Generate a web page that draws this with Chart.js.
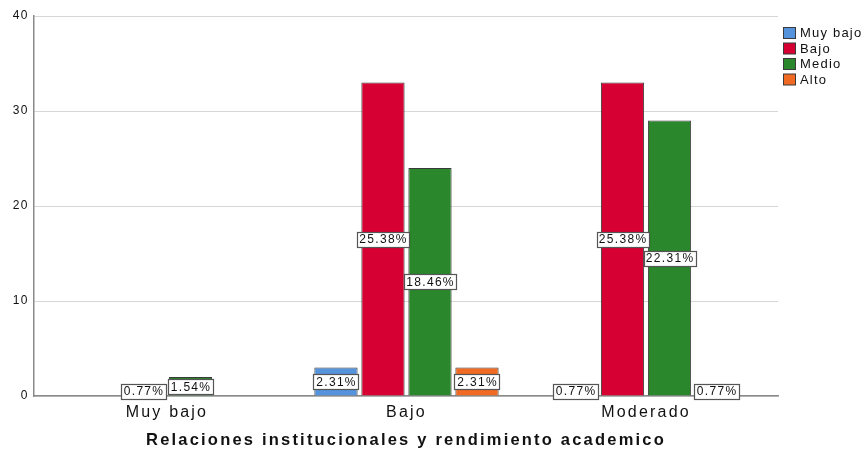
<!DOCTYPE html>
<html>
<head>
<meta charset="utf-8">
<script src="https://cdn.jsdelivr.net/npm/chart.js@4/dist/chart.umd.min.js"></script>
<style>
  html, body { margin: 0; padding: 0; background: #fff; overflow: hidden; }
  #wrap { width: 862px; height: 450px; }
</style>
</head>
<body>
<div id="wrap"><canvas id="chart" width="862" height="450"></canvas></div>
<script>
// categories on the x axis and the four clustered series (counts)
const categories = ['Muy bajo', 'Bajo', 'Moderado'];
const seriesNames = ['Muy bajo', 'Bajo', 'Medio', 'Alto'];
const muyBajoCounts = [0, 3, 1];
const bajoCounts = [1, 33, 33];
const medioCounts = [2, 24, 29];
const altoCounts = [0, 3, 1];
const yTicks = [0, 10, 20, 30, 40];

const colors = {
    blue: '#5594dd',
    red: '#d70032',
    green: '#2a872b',
    orange: '#f06a24',
    outline: '#3a3a3a',
    grid: '#d6d6d6',
    axis: '#8a8a8a',
    text: '#111'
};
const fontFamily = 'Arial, "Liberation Sans", Helvetica, sans-serif';

const allSeries = [muyBajoCounts, bajoCounts, medioCounts, altoCounts];
const totalN = allSeries.flat().reduce((a, b) => a + b, 0);
const seriesColors = [colors.blue, colors.red, colors.green, colors.orange];

// SPSS output uses wide letter spacing, the canvas gets it after init
const spacing = {
    id: 'spacing',
    afterInit(chart) { chart.ctx.letterSpacing = '2.2px'; },
    beforeDraw(chart) { chart.ctx.letterSpacing = '2.2px'; },
    // y tick labels are on a later layer (z: 1) and use tighter spacing
    afterDatasetsDraw(chart) { chart.ctx.letterSpacing = '1.5px'; }
};

// percentage boxes centred in each bar
const percentLabels = {
    id: 'percentLabels',
    afterDatasetsDraw(chart) {
        const ctx = chart.ctx;
        ctx.save();
        ctx.font = '12px ' + fontFamily;
        ctx.letterSpacing = '1.3px';
        ctx.textAlign = 'center';
        ctx.textBaseline = 'middle';
        chart.data.datasets.forEach((ds, di) => {
            const meta = chart.getDatasetMeta(di);
            meta.data.forEach((bar, i) => {
                const v = ds.data[i];
                if (!v) return;
                const txt = (v / totalN * 100).toFixed(2) + '%';
                const w = Math.round(ctx.measureText(txt).width + 4);
                const h = 15;
                const cy = (bar.y + bar.base) / 2;
                const x0 = Math.round(bar.x - w / 2) + 0.5;
                const y0 = Math.round(cy - h / 2) + 0.5;
                ctx.fillStyle = '#fff';
                ctx.fillRect(x0, y0, w, h);
                ctx.strokeStyle = '#555';
                ctx.lineWidth = 1.2;
                ctx.strokeRect(x0, y0, w, h);
                ctx.fillStyle = colors.text;
                ctx.fillText(txt, bar.x + 0.6, cy + 1);
            });
        });
        ctx.restore();
    }
};

// legend in the top right corner, clipped by the canvas edge like the original
const cornerLegend = {
    id: 'cornerLegend',
    afterDraw(chart) {
        const ctx = chart.ctx;
        ctx.save();
        ctx.font = '13px ' + fontFamily;
        ctx.letterSpacing = '1.2px';
        ctx.textBaseline = 'middle';
        chart.data.datasets.forEach((ds, i) => {
            const y = 33 + i * 15.5;
            ctx.fillStyle = ds.backgroundColor;
            ctx.fillRect(783.5, y - 5.5, 12, 11);
            ctx.strokeStyle = colors.outline;
            ctx.lineWidth = 1;
            ctx.strokeRect(783.5, y - 5.5, 12, 11);
            ctx.fillStyle = colors.text;
            ctx.fillText(ds.label, 800, y + 0.5);
        });
        ctx.restore();
    }
};

new Chart(document.getElementById('chart'), {
    type: 'bar',
    data: {
        labels: categories,
        datasets: seriesNames.map((name, i) => ({
            label: name,
            data: allSeries[i],
            backgroundColor: seriesColors[i],
            borderColor: colors.outline,
            borderWidth: 1,
            categoryPercentage: 0.785,
            barPercentage: 0.92
        }))
    },
    options: {
        responsive: false,
        animation: false,
        layout: { padding: { top: 16, right: 84, bottom: 0, left: 0 } },
        plugins: {
            legend: { display: false },
            tooltip: { enabled: false }
        },
        scales: {
            x: {
                grid: { display: false, drawTicks: false },
                border: { color: colors.axis, width: 1.5 },
                ticks: { color: colors.text, font: { family: fontFamily, size: 16 }, padding: 7 },
                title: {
                    display: true,
                    text: 'Relaciones institucionales y rendimiento academico',
                    color: colors.text,
                    font: { family: fontFamily, size: 16.5, weight: 'bold' },
                    padding: { top: 1, bottom: 0 }
                },
                // SPSS leaves extra room at the axis ends
                afterBuildTicks(scale) {
                    scale._startValue = -0.555;
                    scale._valueRange = 3.106;
                }
            },
            y: {
                min: 0,
                max: 40,
                afterBuildTicks(scale) {
                    scale.ticks = yTicks.map(v => ({ value: v }));
                },
                afterFit(scale) { scale.width = 34; },
                grid: { color: colors.grid, drawTicks: false },
                border: { color: colors.axis, width: 1.5 },
                ticks: { z: 1, color: colors.text, font: { family: fontFamily, size: 12 }, padding: 5 }
            }
        }
    },
    plugins: [spacing, percentLabels, cornerLegend]
});
</script>
</body>
</html>
